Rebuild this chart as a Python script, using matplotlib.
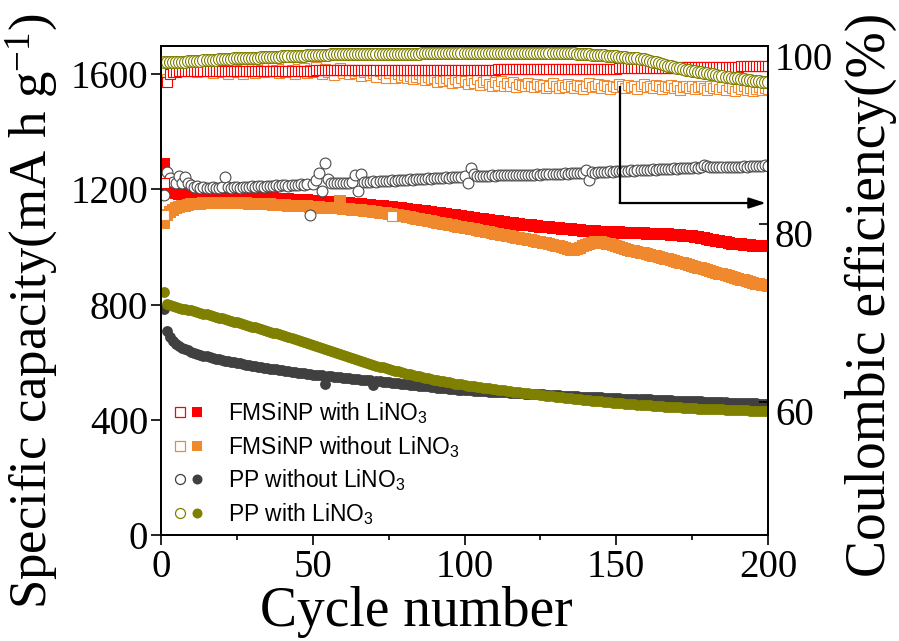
import matplotlib
matplotlib.use("Agg")
import matplotlib.pyplot as plt
from matplotlib.lines import Line2D
from matplotlib.legend_handler import HandlerTuple
from matplotlib.ticker import MultipleLocator
from matplotlib.transforms import ScaledTranslation

plt.rcParams['font.family'] = ['Liberation Serif', 'DejaVu Serif']
plt.rcParams['mathtext.default'] = 'regular'
SERIF = ['Liberation Serif', 'DejaVu Serif']

cycles = list(range(1, 201))

labels = ["FMSiNP with LiNO$_3$", "FMSiNP without LiNO$_3$",
          "PP without LiNO$_3$", "PP with LiNO$_3$"]

# Discharge capacity (mA h g-1), left axis
cap_fmsinp_with = [
    1290, 1212, 1198, 1192, 1188, 1186, 1185, 1184, 1183, 1183, 1182, 1182, 1181, 1181, 1180, 1180, 1180, 1179, 1179, 1178,
    1178, 1178, 1177, 1177, 1176, 1176, 1175, 1175, 1174, 1174, 1173, 1172, 1172, 1171, 1170, 1170, 1169, 1168, 1168, 1167,
    1166, 1166, 1165, 1164, 1164, 1163, 1162, 1162, 1161, 1160, 1160, 1159, 1158, 1158, 1157, 1156, 1156, 1155, 1154, 1154,
    1153, 1152, 1151, 1150, 1149, 1148, 1147, 1146, 1145, 1144, 1143, 1142, 1141, 1140, 1139, 1138, 1137, 1136, 1134, 1133,
    1132, 1130, 1129, 1128, 1126, 1125, 1124, 1122, 1121, 1120, 1118, 1117, 1115, 1114, 1113, 1111, 1110, 1108, 1107, 1105,
    1104, 1102, 1101, 1099, 1098, 1096, 1095, 1093, 1092, 1090, 1089, 1087, 1086, 1085, 1083, 1082, 1081, 1079, 1078, 1077,
    1076, 1075, 1073, 1072, 1071, 1070, 1069, 1068, 1067, 1066, 1065, 1064, 1063, 1062, 1061, 1060, 1059, 1058, 1057, 1057,
    1056, 1055, 1055, 1054, 1054, 1053, 1053, 1052, 1052, 1051, 1051, 1050, 1050, 1050, 1049, 1049, 1048, 1048, 1048, 1047,
    1047, 1046, 1046, 1045, 1045, 1044, 1044, 1043, 1043, 1042, 1041, 1040, 1039, 1038, 1037, 1036, 1034, 1032, 1030, 1028,
    1026, 1024, 1022, 1020, 1018, 1016, 1014, 1012, 1011, 1010, 1009, 1008, 1007, 1006, 1005, 1004, 1004, 1003, 1003, 1002]

cap_fmsinp_without = [
    1085, 1110, 1122, 1130, 1135, 1139, 1142, 1144, 1146, 1148, 1149, 1150, 1151, 1152, 1152, 1153, 1153, 1153, 1154, 1154,
    1154, 1154, 1153, 1153, 1153, 1152, 1152, 1152, 1151, 1151, 1150, 1150, 1149, 1149, 1148, 1148, 1147, 1147, 1146, 1146,
    1145, 1144, 1144, 1143, 1143, 1142, 1141, 1141, 1140, 1139, 1139, 1138, 1137, 1137, 1136, 1135, 1135, 1134, 1160, 1133,
    1132, 1131, 1130, 1129, 1128, 1127, 1126, 1125, 1124, 1122, 1121, 1120, 1118, 1117, 1115, 1114, 1112, 1110, 1109, 1107,
    1105, 1103, 1101, 1099, 1097, 1095, 1093, 1091, 1089, 1087, 1085, 1083, 1081, 1079, 1077, 1075, 1073, 1071, 1069, 1067,
    1065, 1063, 1061, 1059, 1057, 1055, 1053, 1051, 1049, 1047, 1045, 1043, 1041, 1039, 1037, 1035, 1033, 1031, 1029, 1027,
    1025, 1023, 1021, 1019, 1017, 1015, 1013, 1011, 1008, 1005, 1002, 999, 996, 993, 991, 991, 993, 997, 1002, 1007,
    1011, 1014, 1016, 1017, 1016, 1014, 1012, 1009, 1006, 1003, 1000, 997, 994, 991, 988, 986, 983, 980, 978, 975,
    973, 970, 968, 965, 962, 960, 957, 954, 952, 949, 946, 943, 941, 938, 935, 932, 929, 926, 923, 920,
    917, 914, 911, 908, 905, 902, 899, 896, 893, 890, 887, 884, 881, 878, 875, 873, 871, 869, 867, 865]

cap_pp_without = [
    785, 708, 688, 674, 665, 657, 651, 646, 641, 636, 632, 629, 626, 623, 620, 617, 615, 612, 610, 608,
    606, 604, 602, 600, 598, 596, 594, 592, 590, 588, 586, 585, 583, 581, 580, 578, 577, 575, 574, 572,
    570, 569, 567, 566, 564, 563, 562, 560, 559, 557, 556, 555, 554, 526, 552, 551, 550, 548, 547, 546,
    545, 544, 543, 542, 541, 540, 539, 538, 537, 520, 535, 534, 533, 532, 530, 529, 528, 527, 526, 524,
    523, 522, 521, 520, 519, 518, 517, 516, 515, 513, 512, 511, 510, 509, 508, 507, 506, 505, 504, 503,
    502, 502, 501, 501, 500, 499, 499, 498, 498, 497, 496, 496, 495, 495, 494, 494, 493, 492, 492, 491,
    491, 490, 490, 489, 488, 488, 487, 487, 486, 485, 485, 484, 484, 483, 483, 482, 482, 481, 481, 480,
    480, 479, 479, 478, 478, 477, 477, 476, 476, 475, 475, 474, 474, 473, 473, 473, 472, 472, 471, 471,
    471, 470, 470, 469, 469, 469, 468, 468, 467, 467, 467, 466, 466, 465, 465, 465, 464, 464, 463, 463,
    463, 462, 462, 462, 461, 461, 460, 460, 460, 459, 459, 458, 458, 458, 457, 457, 456, 456, 455, 455]

cap_pp_with = [
    845, 802, 798, 795, 792, 789, 786, 784, 782, 780, 777, 774, 772, 769, 766, 763, 760, 758, 755, 752,
    749, 746, 743, 741, 738, 735, 732, 729, 727, 724, 721, 718, 715, 712, 709, 706, 703, 700, 697, 694,
    691, 688, 684, 681, 677, 674, 670, 667, 664, 660, 657, 653, 649, 646, 642, 639, 635, 632, 628, 625,
    621, 618, 614, 611, 607, 604, 601, 597, 594, 591, 588, 585, 582, 579, 576, 573, 571, 568, 565, 563,
    560, 558, 555, 553, 551, 548, 546, 544, 542, 540, 538, 536, 534, 532, 530, 528, 526, 525, 523, 521,
    519, 518, 516, 515, 513, 512, 510, 509, 507, 506, 505, 503, 502, 501, 499, 498, 497, 496, 494, 493,
    492, 490, 489, 488, 487, 486, 484, 483, 482, 481, 480, 478, 477, 476, 475, 474, 473, 471, 470, 469,
    468, 467, 466, 465, 464, 463, 462, 461, 460, 459, 458, 457, 456, 456, 455, 454, 453, 452, 451, 450,
    450, 449, 448, 447, 447, 446, 445, 445, 444, 443, 443, 442, 441, 441, 440, 440, 439, 439, 438, 438,
    437, 437, 437, 436, 436, 435, 435, 435, 434, 434, 433, 433, 433, 432, 432, 432, 431, 431, 431, 430]

# Coulombic efficiency (%), right axis
ce_fmsinp_with = [
    84.5, 95.9, 96.8, 97.0, 97.05, 97.1, 97.1, 97.1, 97.1, 97.1, 97.1, 97.1, 97.1, 97.1, 97.1, 97.1, 97.1, 97.1, 97.1, 97.1,
    97.1, 97.1, 97.1, 97.1, 97.1, 97.1, 97.1, 97.1, 97.1, 97.1, 97.15, 97.15, 97.15, 97.15, 97.15, 97.15, 97.15, 97.15, 97.15, 97.15,
    97.15, 97.15, 97.15, 97.15, 97.15, 97.15, 97.15, 97.15, 97.15, 97.15, 97.2, 97.2, 97.2, 97.2, 97.2, 97.2, 97.2, 97.2, 97.2, 97.2,
    97.2, 97.2, 97.2, 97.2, 97.2, 97.2, 97.2, 97.2, 97.2, 97.2, 97.25, 97.25, 97.25, 97.25, 97.25, 97.25, 97.25, 97.25, 97.25, 97.25,
    97.25, 97.25, 97.25, 97.25, 97.25, 97.25, 97.25, 97.25, 97.25, 97.25, 97.3, 97.3, 97.3, 97.3, 97.3, 97.3, 97.3, 97.3, 97.3, 97.3,
    97.3, 97.3, 97.3, 97.3, 97.3, 97.3, 97.3, 97.3, 97.3, 97.3, 97.35, 97.35, 97.35, 97.35, 97.35, 97.35, 97.35, 97.35, 97.35, 97.35,
    97.35, 97.35, 97.35, 97.35, 97.35, 97.35, 97.35, 97.35, 97.35, 97.35, 97.4, 97.4, 97.4, 97.4, 97.4, 97.4, 97.4, 97.4, 97.4, 97.4,
    97.4, 97.4, 97.4, 97.4, 97.4, 97.4, 97.4, 97.4, 97.4, 97.4, 97.45, 97.45, 97.45, 97.45, 97.45, 97.45, 97.45, 97.45, 97.45, 97.45,
    97.5, 97.5, 97.5, 97.5, 97.5, 97.5, 97.5, 97.5, 97.5, 97.5, 97.55, 97.55, 97.55, 97.55, 97.55, 97.55, 97.55, 97.55, 97.55, 97.55,
    97.6, 97.6, 97.6, 97.6, 97.6, 97.6, 97.6, 97.6, 97.6, 97.6, 97.65, 97.65, 97.65, 97.65, 97.65, 97.65, 97.65, 97.65, 97.65, 97.65]

ce_fmsinp_without = [
    81.0, 96.2, 97.6, 97.9, 97.3, 97.8, 97.1, 97.5, 97.9, 97.2, 97.6, 97.0, 97.4, 97.8, 97.1, 97.5, 96.9, 97.3, 97.7, 97.0,
    97.4, 96.8, 97.2, 97.6, 97.0, 97.3, 96.8, 97.5, 97.1, 97.4, 96.9, 97.6, 97.2, 97.0, 97.5, 97.1, 97.7, 97.3, 96.9, 97.4,
    97.0, 97.6, 97.2, 96.8, 97.4, 97.1, 97.5, 96.9, 97.3, 97.0, 97.6, 97.1, 96.8, 97.4, 97.0, 97.3, 96.7, 97.2, 97.5, 96.9,
    97.2, 96.8, 97.3, 96.9, 97.1, 96.6, 97.0, 97.3, 96.7, 96.9, 96.5, 97.1, 96.8, 96.4, 96.9, 80.8, 96.3, 96.8, 96.5, 96.7,
    96.3, 96.6, 96.2, 96.5, 96.8, 96.3, 96.1, 96.5, 96.2, 96.4, 95.9, 96.3, 96.0, 96.4, 96.1, 95.8, 96.2, 95.9, 96.3, 96.0,
    95.7, 96.1, 95.8, 96.2, 95.6, 95.9, 96.1, 95.7, 95.5, 95.9, 95.6, 96.0, 95.4, 95.8, 95.5, 95.9, 95.3, 95.7, 95.6, 95.4,
    95.8, 95.5, 95.3, 95.7, 95.4, 95.6, 95.2, 95.5, 95.8, 95.4, 95.2, 95.6, 95.3, 95.7, 95.5, 95.2, 95.6, 95.4, 95.1, 95.5,
    95.8, 95.3, 95.5, 95.7, 95.2, 95.6, 95.4, 95.1, 95.5, 95.3, 95.7, 95.4, 95.2, 95.6, 95.3, 95.5, 95.1, 95.4, 95.7, 95.3,
    95.5, 95.2, 95.6, 95.4, 95.1, 95.5, 95.3, 95.6, 95.2, 95.4, 95.0, 95.3, 95.5, 95.2, 95.4, 95.1, 95.3, 95.5, 95.2, 95.0,
    95.4, 95.2, 95.5, 95.1, 95.3, 95.0, 95.4, 95.2, 94.9, 95.3, 95.1, 95.4, 95.0, 95.2, 94.9, 95.1, 95.3, 95.0, 95.2, 95.1]

ce_pp_without = [
    83.2, 85.8, 85.1, 84.7, 84.6, 85.3, 84.5, 85.2, 84.5, 84.3, 84.1, 84.2, 84.0, 84.1, 84.0, 84.0, 84.1, 84.0, 84.0, 84.1,
    85.2, 84.1, 84.0, 84.1, 84.1, 84.0, 84.1, 84.1, 84.1, 84.2, 84.1, 84.2, 84.2, 84.1, 84.2, 84.2, 84.2, 84.3, 84.2, 84.3,
    84.3, 84.2, 84.3, 84.3, 84.3, 84.4, 84.3, 84.4, 80.9, 84.4, 84.9, 85.7, 83.6, 86.8, 85.0, 84.5, 84.5, 84.6, 84.5, 84.6,
    84.6, 84.6, 84.7, 85.5, 83.6, 85.6, 84.7, 84.7, 84.7, 84.8, 84.7, 84.8, 84.8, 84.8, 84.8, 84.9, 84.8, 84.9, 84.9, 84.9,
    84.9, 85.0, 84.9, 85.0, 85.0, 85.0, 85.0, 85.1, 85.0, 85.1, 85.1, 85.1, 85.1, 85.2, 85.1, 85.2, 85.2, 85.2, 85.2, 85.3,
    84.6, 86.2, 85.6, 85.3, 85.3, 85.3, 85.3, 85.3, 85.4, 85.3, 85.4, 85.4, 85.4, 85.4, 85.4, 85.5, 85.4, 85.5, 85.5, 85.5,
    85.5, 85.5, 85.5, 85.6, 85.5, 85.6, 85.6, 85.6, 85.6, 85.6, 85.6, 85.6, 85.7, 85.6, 85.7, 85.7, 85.7, 85.7, 85.7, 86.0,
    84.9, 85.8, 85.7, 85.8, 85.8, 85.8, 85.8, 85.9, 85.8, 85.9, 85.9, 85.9, 85.9, 85.9, 86.0, 85.9, 86.0, 86.0, 86.0, 86.0,
    86.0, 86.1, 86.0, 86.1, 86.1, 86.1, 86.1, 86.1, 86.2, 86.1, 86.2, 86.2, 86.2, 86.2, 86.2, 86.3, 86.2, 86.3, 86.6, 86.5,
    86.3, 86.3, 86.3, 86.3, 86.4, 86.3, 86.4, 86.4, 86.4, 86.4, 86.4, 86.5, 86.4, 86.5, 86.5, 86.5, 86.5, 86.5, 86.6, 86.5]

ce_pp_with = [
    98.1, 98.1, 98.1, 98.15, 98.15, 98.2, 98.2, 98.2, 98.25, 98.25, 98.3, 98.3, 98.3, 98.35, 98.35, 98.4, 98.4, 98.4, 98.45, 98.45,
    98.5, 98.5, 98.5, 98.55, 98.55, 98.55, 98.6, 98.6, 98.6, 98.65, 98.65, 98.65, 98.7, 98.7, 98.7, 98.7, 98.75, 98.75, 98.75, 98.8,
    98.8, 98.8, 98.8, 98.85, 98.85, 98.85, 98.85, 98.9, 98.9, 98.9, 98.9, 98.95, 98.95, 98.95, 98.95, 99.0, 99.0, 99.0, 99.0, 99.0,
    99.05, 99.05, 99.05, 99.05, 99.05, 99.05, 99.05, 99.05, 99.05, 99.05, 99.1, 99.1, 99.1, 99.1, 99.1, 99.1, 99.1, 99.1, 99.1, 99.1,
    99.1, 99.1, 99.1, 99.1, 99.1, 99.15, 99.15, 99.15, 99.15, 99.15, 99.15, 99.15, 99.15, 99.15, 99.15, 99.2, 99.2, 99.2, 99.2, 99.2,
    99.2, 99.2, 99.2, 99.2, 99.2, 99.2, 99.2, 99.2, 99.2, 99.2, 99.2, 99.2, 99.2, 99.2, 99.2, 99.2, 99.2, 99.2, 99.2, 99.2,
    99.2, 99.2, 99.2, 99.2, 99.2, 99.2, 99.2, 99.2, 99.2, 99.2, 99.2, 99.2, 99.2, 99.2, 99.15, 99.15, 99.1, 99.1, 99.05, 99.0,
    99.0, 98.95, 98.95, 98.9, 98.9, 98.9, 98.85, 98.85, 98.8, 98.8, 98.75, 98.7, 98.7, 98.65, 98.6, 98.6, 98.55, 98.5, 98.45, 98.4,
    98.3, 98.2, 98.1, 98.0, 97.9, 97.8, 97.75, 97.65, 97.6, 97.5, 97.45, 97.35, 97.3, 97.2, 97.15, 97.1, 97.05, 97.0, 96.95, 96.9,
    96.8, 96.75, 96.7, 96.6, 96.55, 96.5, 96.45, 96.4, 96.35, 96.3, 96.25, 96.2, 96.15, 96.1, 96.05, 96.0, 96.0, 95.95, 95.9, 95.9]

# arrow annotation anchor (cycle, CE)
arrow_x = 151.2
arrow_y_top = 95.5
arrow_y_bend = 82.3
arrow_x_tip = 199.3

RED = '#FF0000'
ORANGE = '#F0892D'
GRAY = '#404040'
OLIVE = '#808000'

fig = plt.figure(figsize=(8.99, 6.41), dpi=100)
ax = fig.add_axes([161 / 899, 1 - 535 / 641, (768 - 161) / 899, (535 - 45.5) / 641])
ax2 = ax.twinx()

ms_fill_sq = 8.4
ms_fill_ci = 7.8
ms_open_sq = 7.0
ms_open_ci = 7.8

ax.plot(cycles, cap_fmsinp_with, ls='none', marker='s', ms=ms_fill_sq, color=RED, mew=0)
ax.plot(cycles, cap_fmsinp_without, ls='none', marker='s', ms=ms_fill_sq, color=ORANGE, mew=0)
ax.plot(cycles, cap_pp_without, ls='none', marker='o', ms=ms_fill_ci, color=GRAY, mew=0)
ax.plot(cycles, cap_pp_with, ls='none', marker='o', ms=ms_fill_ci, color=OLIVE, mew=0)

ax2.plot(cycles, ce_pp_without, ls='none', marker='o', ms=ms_open_ci, mfc='white', mec='#4a4a4a', mew=0.8)
ax2.plot(cycles, ce_fmsinp_without, ls='none', marker='s', ms=ms_open_sq, mfc='white', mec=ORANGE, mew=0.8)
ax2.plot(cycles, ce_fmsinp_with, ls='none', marker='s', ms=ms_open_sq, mfc='white', mec=RED, mew=0.8)
ax2.plot(cycles, ce_pp_with, ls='none', marker='o', ms=8.6, mfc='white', mec=OLIVE, mew=0.8)

# arrow pointing to right axis
ax2.plot([arrow_x, arrow_x], [arrow_y_top, arrow_y_bend], color='black', lw=1.6, solid_capstyle='butt')
ax2.annotate('', xy=(arrow_x_tip, arrow_y_bend), xytext=(arrow_x - 0.1, arrow_y_bend),
             arrowprops=dict(arrowstyle='-|>,head_length=1.0,head_width=0.32', color='black', lw=1.6,
                             shrinkA=0, shrinkB=0))

ax.set_xlim(0, 200)
ax.set_ylim(0, 1700)
ax2.set_ylim(45, 100)
ax.xaxis.set_major_locator(MultipleLocator(50))
ax.xaxis.set_minor_locator(MultipleLocator(25))
ax.yaxis.set_major_locator(MultipleLocator(400))
ax2.set_yticks([60, 80, 100])

for a in (ax, ax2):
    for s in a.spines.values():
        s.set_linewidth(1.3)

ax.tick_params(axis='y', which='major', direction='out', length=7.2, width=1.2, labelsize=28, pad=2)
ax.tick_params(axis='x', which='major', direction='out', length=7.2, width=1.2, labelsize=28, pad=3)
ax.tick_params(axis='x', which='minor', direction='out', length=3.6, width=1.2)
ax2.tick_params(axis='y', which='major', direction='in', length=6.5, width=1.2, labelsize=28, pad=5)

# right-axis numbers sit slightly below their ticks in the reference
offset = ScaledTranslation(0, -10 / 100, fig.dpi_scale_trans)
for t in ax2.yaxis.get_major_ticks():
    t.label2.set_transform(t.label2.get_transform() + offset)

ax.set_xlabel('Cycle number', fontsize=40, va='center', family=SERIF)
ax.xaxis.set_label_coords(0.42, -0.158)
ax.set_ylabel('Specific capacity(mA h g$^{-1}$)', fontsize=38, va='center', family=SERIF)
ax.yaxis.set_label_coords(-0.214, 0.458)
ax2.set_ylabel('Coulombic efficiency(%)', fontsize=40, va='center', family=SERIF)
ax2.yaxis.set_label_coords(1.17, 0.49)

def pair(marker, color):
    return (Line2D([], [], ls='none', marker=marker, ms=7.2, mfc='white', mec=color, mew=0.9),
            Line2D([], [], ls='none', marker=marker, ms=7.2, color=color, mew=0))

handles = [pair('s', RED), pair('s', ORANGE), pair('o', GRAY), pair('o', OLIVE)]
leg = ax2.legend(handles, labels, handler_map={tuple: HandlerTuple(ndivide=None, pad=0.15)},
                 loc='upper left', bbox_to_anchor=(0.021, 0.275), borderaxespad=0, borderpad=0,
                 frameon=False, prop={'family': 'Liberation Sans', 'size': 16.4},
                 handlelength=1.3, handletextpad=1.1, labelspacing=0.33)

fig.savefig('out.png', dpi=100)
